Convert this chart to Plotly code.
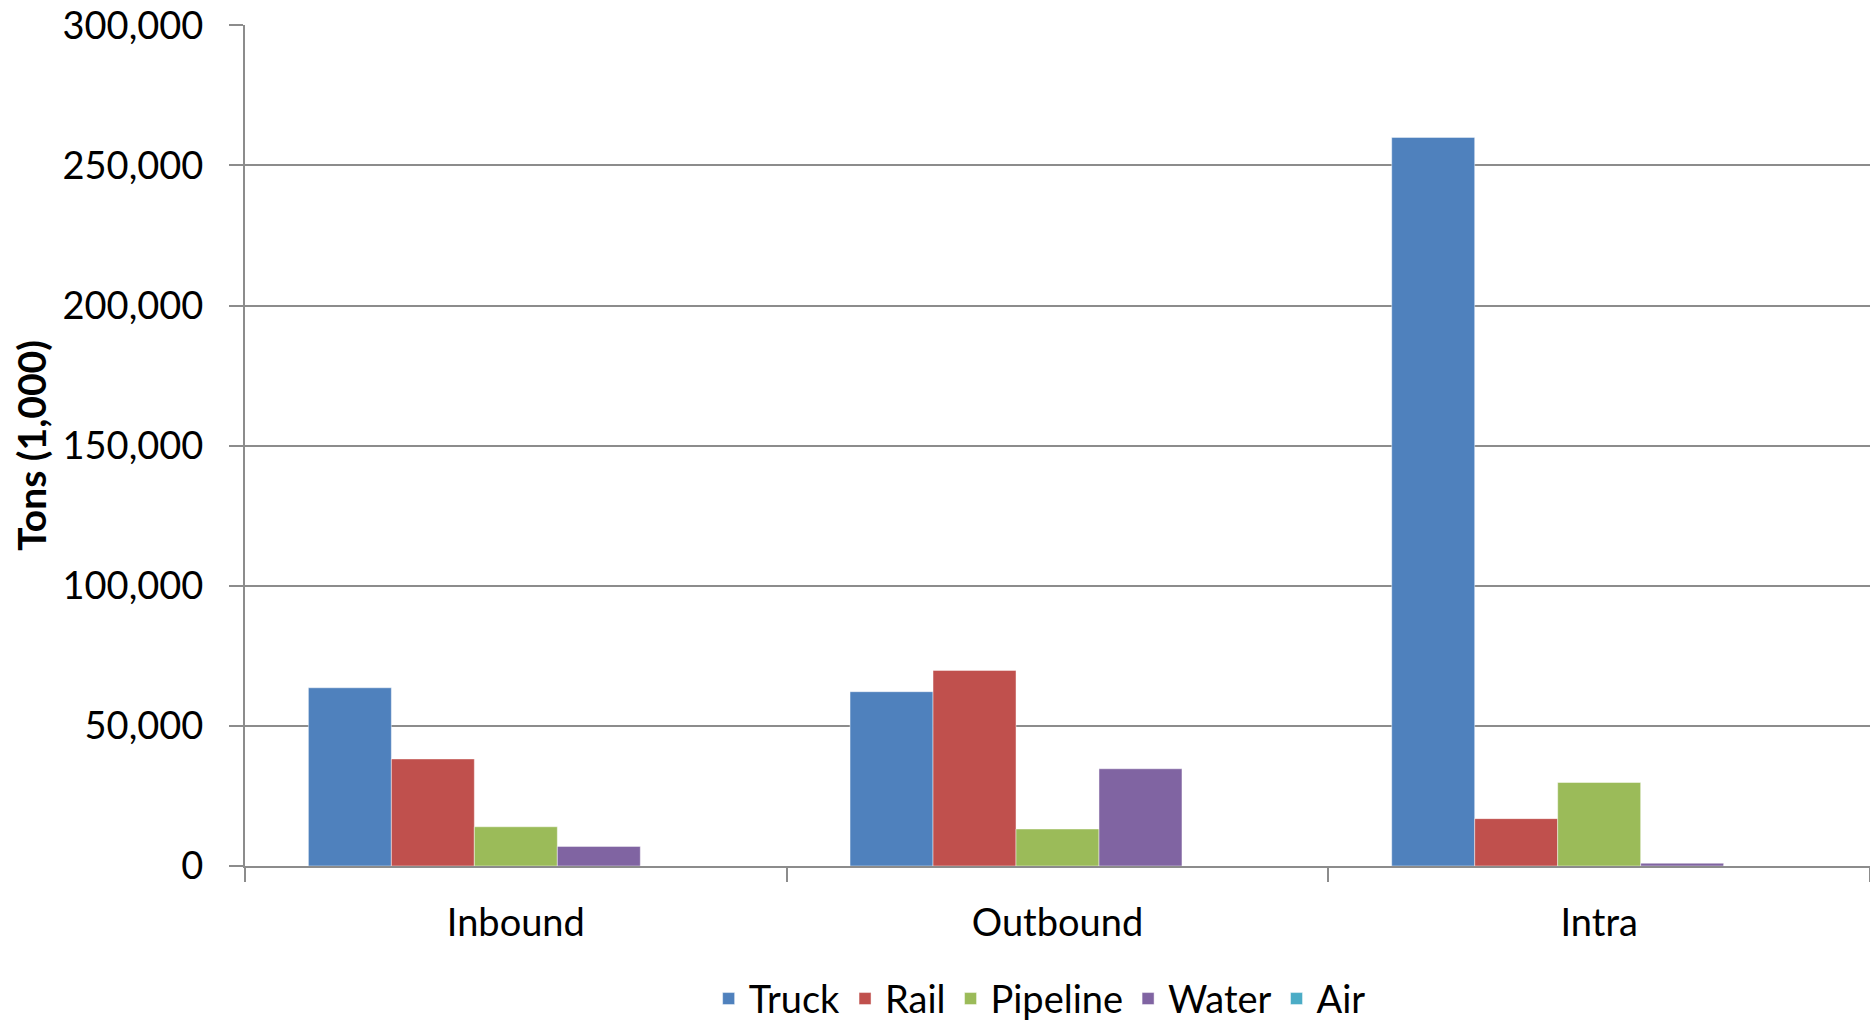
import plotly.graph_objects as go

# Freight tonnage by direction and mode
directions = ["Inbound", "Outbound", "Intra"]
modes = ["Truck", "Rail", "Pipeline", "Water", "Air"]
truck = [63600, 62200, 260000]
rail = [38200, 69800, 16900]
pipeline = [14000, 13200, 29800]
water = [7000, 34700, 1000]
air = [0, 0, 0]
y_ticks = [0, 50000, 100000, 150000, 200000, 250000, 300000]

series = [truck, rail, pipeline, water, air]
colors = ["#4F81BD", "#C0504D", "#9BBB59", "#8064A2", "#4BACC6"]
grid = "#8c8c8c"

fig = go.Figure()
for name, vals, col in zip(modes, series, colors):
    fig.add_trace(go.Bar(
        x=directions, y=vals, name=name,
        marker=dict(color=col, line=dict(color="rgba(255,255,255,0.45)", width=1)),
    ))

fig.update_layout(
    width=1870, height=1026,
    margin=dict(l=245, r=0, t=25, b=160, autoexpand=False),
    paper_bgcolor="white", plot_bgcolor="white",
    barmode="group", bargap=0.234, bargroupgap=0,
    font=dict(family="Lato", color="black", size=38),
    showlegend=True,
    legend=dict(
        orientation="h", x=0.489, xanchor="center", y=-0.158, yanchor="middle",
        font=dict(family="Lato", size=38),
        itemwidth=30, tracegroupgap=0,
    ),
)

fig.update_yaxes(
    range=[0, 300100], tickvals=y_ticks, tickformat=",",
    showgrid=True, gridcolor=grid, gridwidth=2,
    showline=True, linecolor=grid, linewidth=2,
    ticks="outside", ticklen=14, tickcolor=grid, tickwidth=2,
    ticklabelstandoff=18, zeroline=False,
    title=dict(text="<b>Tons (1,000)</b>", font=dict(size=39), standoff=4),
)
fig.update_xaxes(
    showline=True, linecolor=grid, linewidth=2,
    ticks="outside", tickson="boundaries", ticklen=14, tickcolor=grid, tickwidth=2,
    ticklabelstandoff=22, showgrid=False,
)

fig.write_html("out.html")
